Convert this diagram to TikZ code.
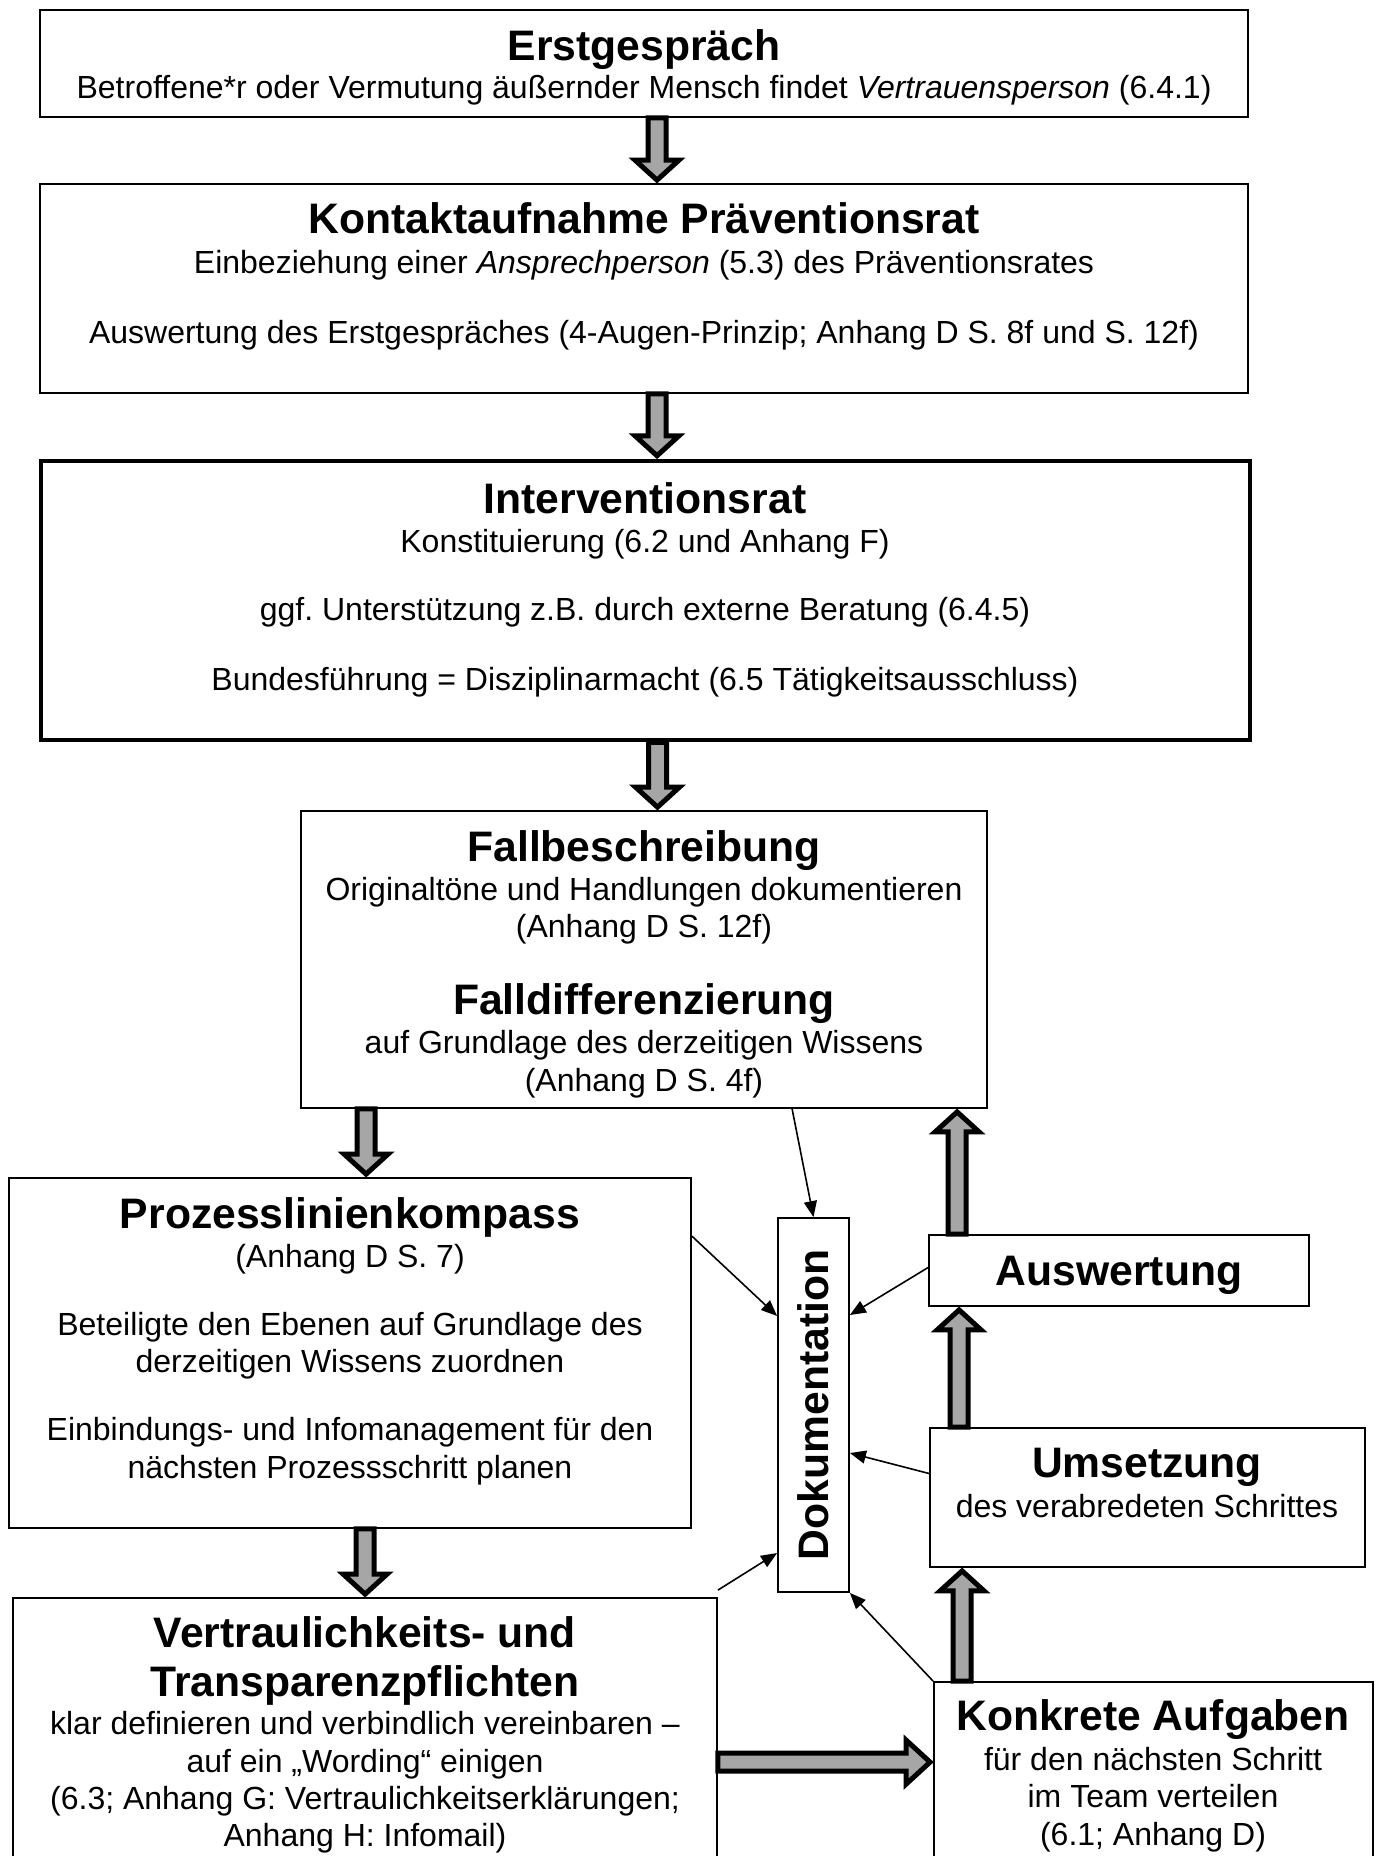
\documentclass[tikz,border=0pt]{standalone}
\usepackage{fontspec}
\setmainfont{Liberation Sans}
\usetikzlibrary{calc,fit,arrows.meta}
\definecolor{arrowgray}{RGB}{166,166,166}
\frenchspacing

\newcommand\bodyfont{\fontsize{32}{37}\selectfont}
\newcommand\headfont{\fontsize{42.67}{47}\selectfont\bfseries}

% block arrow with grey body and black outline; #1 = head length
\newcommand\fatarrow[3][20]{%
  \draw[fat] let \p1=(#2), \p2=(#3),
      \n1={scalar(atan2(\y2-\y1,\x2-\x1))},
      \n2={scalar(veclen(\x2-\x1,\y2-\y1))-3},
      \n3={\n2-#1}
    in {[shift={(\p1)}, rotate=\n1]
      (0pt,-9pt) -- ({\n3*1pt},-9pt) -- ({\n3*1pt},-22pt) -- ({\n2*1pt},0pt)
      -- ({\n3*1pt},22pt) -- ({\n3*1pt},9pt) -- (0pt,9pt) -- cycle};}

\begin{document}
\begin{tikzpicture}[x=1pt,y=-1pt,
  box/.style={draw, line width=1.8pt, inner sep=0pt},
  heavybox/.style={draw, line width=4.5pt, inner sep=0pt},
  head/.style={anchor=base, inner sep=0pt, font=\headfont},
  body/.style={anchor=base, inner sep=0pt, font=\bodyfont},
  link/.style={line width=1.6pt, -{Triangle[length=16pt,width=13pt]}},
  fat/.style={draw=black, fill=arrowgray, line width=5pt, line join=miter}]

\useasboundingbox (0,0) rectangle (1377,1856);
\clip (0,0) rectangle (1377,1856);

% boxes
\node[box, fit={(40,10) (1248,117)}] (b1) {};
\node[box, fit={(40,184) (1248,393)}] (b2) {};
\node[heavybox, fit={(41,461) (1250,740)}] (b3) {};
\node[box, fit={(301,811) (987,1108)}] (b4) {};
\node[box, fit={(9,1178) (691,1528)}] (pk) {};
\node[box, fit={(13,1598) (717,1900)}] (vt) {};
\node[box, fit={(778,1218) (849,1592)}] (dok) {};
\node[box, fit={(929,1235) (1309,1306)}] (aw) {};
\node[box, fit={(930,1428) (1365,1567)}] (um) {};
\node[box, fit={(934,1682) (1373,1900)}] (ka) {};

% texts
\node[head] (t1a) at (644,60) {Erstgespräch};
\node[body] (t1b) at (644,98) {Betroffene*r oder Vermutung äußernder Mensch findet \textit{Vertrauensperson} (6.4.1)};

\node[head] (t2a) at (644,233) {Kontaktaufnahme Präventionsrat};
\node[body] (t2b) at (644,273) {Einbeziehung einer \textit{Ansprechperson} (5.3) des Präventionsrates};
\node[body] (t2c) at (644,343) {Auswertung des Erstgespräches (4-Augen-Prinzip; Anhang D S. 8f und S. 12f)};

\node[head] (t3a) at (645,513) {Interventionsrat};
\node[body] (t3b) at (645,552) {Konstituierung (6.2 und Anhang F)};
\node[body] (t3c) at (645,620) {ggf. Unterstützung z.B. durch externe Beratung (6.4.5)};
\node[body] (t3d) at (645,690) {Bundesführung = Disziplinarmacht (6.5 Tätigkeitsausschluss)};

\node[head] (t4a) at (644,861) {Fallbeschreibung};
\node[body] (t4b) at (644,900) {Originaltöne und Handlungen dokumentieren};
\node[body] (t4c) at (644,937) {(Anhang D S. 12f)};
\node[head] (t4d) at (644,1014) {Falldifferenzierung};
\node[body] (t4e) at (644,1053) {auf Grundlage des derzeitigen Wissens};
\node[body] (t4f) at (644,1091) {(Anhang D S. 4f)};

\node[head] (t5a) at (350,1228) {Prozesslinienkompass};
\node[body] (t5b) at (350,1267) {(Anhang D S. 7)};
\node[body] (t5c) at (350,1335) {Beteiligte den Ebenen auf Grundlage des};
\node[body] (t5d) at (350,1372) {derzeitigen Wissens zuordnen};
\node[body] (t5e) at (350,1440) {Einbindungs- und Infomanagement für den};
\node[body] (t5f) at (350,1478) {nächsten Prozessschritt planen};

\node[head] (t6a) at (365,1647) {Vertraulichkeits- und};
\node[head] (t6b) at (365,1696) {Transparenzpflichten};
\node[body] (t6c) at (365,1734) {klar definieren und verbindlich vereinbaren –};
\node[body] (t6d) at (365,1772) {auf ein „Wording“ einigen};
\node[body] (t6e) at (365,1809) {(6.3; Anhang G: Vertraulichkeitserklärungen;};
\node[body] (t6f) at (365,1846) {Anhang H: Infomail)};

\node[head] (t7a) at (1153,1730) {Konkrete Aufgaben};
\node[body] (t7b) at (1153,1770) {für den nächsten Schritt};
\node[body] (t7c) at (1153,1807) {im Team verteilen};
\node[body] (t7d) at (1153,1845) {(6.1; Anhang D)};

\node[head] (t8a) at (1119,1285) {Auswertung};

\node[head] (t9a) at (1147,1477) {Umsetzung};
\node[body] (t9b) at (1147,1517) {des verabredeten Schrittes};

\node[inner sep=0pt, font=\headfont, rotate=90] (t10) at (dok.center) {Dokumentation};

% block arrows of the main flow
\coordinate (s1) at ($(b1.south)+(13,0)$);
\coordinate (s2) at ($(b2.south)+(13,0)$);
\coordinate (s3) at ($(b3.south)+(12,0)$);
\coordinate (s4) at ($(b4.south west)+(66,0)$);
\coordinate (s5) at ($(pk.south west)+(357,0)$);
\coordinate (s6) at ($(vt.north east)+(0,165)$);
\coordinate (s7) at ($(ka.north west)+(29,0)$);
\coordinate (s8) at ($(um.north west)+(30,0)$);
\coordinate (s9) at ($(aw.north west)+(29,0)$);

\fatarrow{s1}{s1 |- b2.north}
\fatarrow{s2}{s2 |- b3.north}
\fatarrow{s3}{s3 |- b4.north}
\fatarrow{s4}{s4 |- pk.north}
\fatarrow{s5}{s5 |- vt.north}
\fatarrow[24]{s6}{s6 -| ka.west}
\fatarrow{s7}{s7 |- um.south}
\fatarrow{s8}{s8 |- aw.south}
\fatarrow{s9}{s9 |- b4.south}

% links into the documentation column
\draw[link] ($(b4.south west)+(492,0)$) -- (dok.north);
\draw[link] ($(pk.north east)+(0,59)$) -- ($(dok.west)+(0,-89)$);
\draw[link] ($(aw.west)+(0,-3)$) -- ($(dok.east)+(0,-90)$);
\draw[link] ($(um.west)+(0,-24)$) -- ($(dok.east)+(0,48)$);
\draw[link] ($(vt.north east)+(0,-7)$) -- ($(dok.west)+(0,148)$);
\draw[link] (ka.north west) -- (dok.south east);
\end{tikzpicture}
\end{document}
